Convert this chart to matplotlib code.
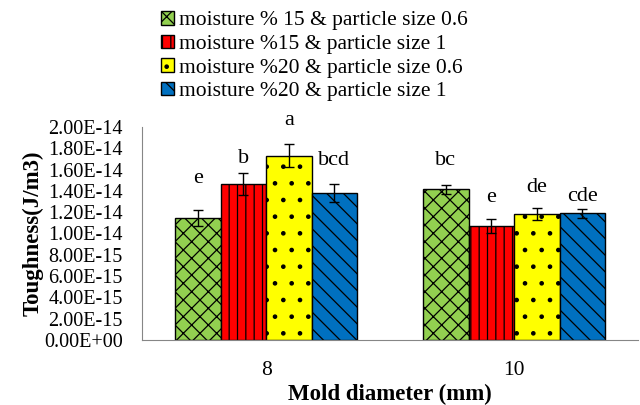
import numpy as np
import matplotlib
matplotlib.use('Agg')
import matplotlib.pyplot as plt
import matplotlib.ticker as mticker

plt.rcParams['font.family'] = ['Liberation Serif', 'DejaVu Serif']
plt.rcParams['hatch.linewidth'] = 0.9

# datos
diametros = ['8', '10']
series = ['moisture % 15 & particle size 0.6',
          'moisture %15 & particle size 1',
          'moisture %20 & particle size 0.6',
          'moisture %20 & particle size 1']
tenacidad = [
    [1.143e-14, 1.415e-14],
    [1.465e-14, 1.070e-14],
    [1.730e-14, 1.180e-14],
    [1.380e-14, 1.190e-14],
]
errores = [
    [0.075e-14, 0.040e-14],
    [0.105e-14, 0.066e-14],
    [0.110e-14, 0.055e-14],
    [0.080e-14, 0.040e-14],
]
letras = [
    ['e', 'bc'],
    ['b', 'e'],
    ['a', 'de'],
    ['bcd', 'cde'],
]

colores = ['#92D050', '#FF0000', '#FFFF00', '#0070C0']
tramas = ['xx', '||', '.', '\\\\']
# separacion de las letras sobre la barra de error (pixeles)
sep_letras = [[27, 20], [10, 17], [19, 16], [19, 8]]

fig = plt.figure(figsize=(6.4, 4.05), dpi=100)
ax = fig.add_axes([0.222, 0.1605, 0.775, 0.526])

x = np.arange(len(diametros))
ancho = 0.1835
for i in range(len(series)):
    pos = x + (i - 1.5) * ancho
    ax.bar(pos, tenacidad[i], ancho, color=colores[i], edgecolor='black',
           hatch=tramas[i], linewidth=1.0, label=series[i])
    ax.errorbar(pos, tenacidad[i], yerr=errores[i], fmt='none', ecolor='black',
                elinewidth=1.0, capsize=3.6, capthick=1.0)
    for j in range(len(diametros)):
        ax.annotate(letras[i][j], (pos[j], tenacidad[i][j] + errores[i][j]),
                    xytext=(0, sep_letras[i][j]), textcoords='offset pixels',
                    ha='center', va='baseline', fontsize=16, annotation_clip=False)

ax.set_xlim(-0.5, 1.5)
ax.set_ylim(0, 2.0e-14)
ax.set_yticks(np.arange(0, 2.01e-14, 0.2e-14))
ax.yaxis.set_major_formatter(mticker.FuncFormatter(
    lambda v, p: ('%.2E' % v).replace('E-0', 'E-')))
ax.set_xticks(x)
ax.set_xticklabels(diametros)
ax.tick_params(axis='both', length=0)
ax.tick_params(axis='y', labelsize=14.5, pad=14)
ax.tick_params(axis='x', labelsize=15.5, pad=15)
for s in ['top', 'right']:
    ax.spines[s].set_visible(False)
for s in ['left', 'bottom']:
    ax.spines[s].set_color('#868686')

ax.set_xlabel('Mold diameter (mm)', fontsize=16.5, fontweight='bold', labelpad=3)
ax.set_ylabel('Toughness(J/m3)', fontsize=16.5, fontweight='bold')
ax.yaxis.set_label_coords(-0.198, 0.5)

fig.legend(loc='upper left', bbox_to_anchor=(0.2516, 0.973), frameon=False,
           fontsize=15.5, handlelength=0.6, handleheight=0.6, handletextpad=0.23,
           labelspacing=0.195, borderaxespad=0, borderpad=0)

plt.savefig('out.png', dpi=100)
